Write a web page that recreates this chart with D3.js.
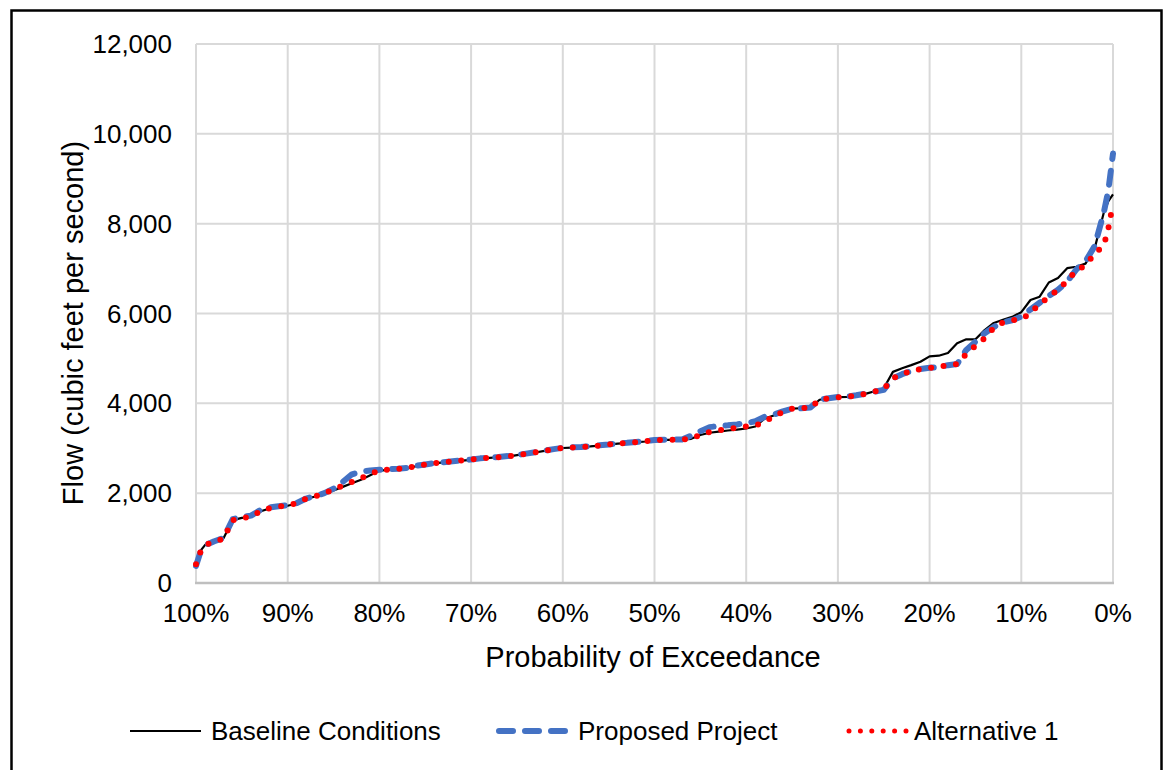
<!DOCTYPE html>
<html><head><meta charset="utf-8">
<script src="https://cdn.jsdelivr.net/npm/d3@7"></script>
<style>body{margin:0;background:#fff}svg{display:block;font-family:"Liberation Sans",Arial,sans-serif}</style>
</head><body><svg id="c" width="1166" height="770"></svg>
<script>
const probability = [100,99.5,99,98,97,96,95,94,93,92,91,90,89,88,87,86,85,84,83,82,81,80,79,78,77,76,75,74,73,72,71,70,69,68,67,66,65,64,63,62,61,60,59,58,57,56,55,54,53,52,51,50,49,48,47,46,45,44,43,42,41,40,39,38,37,36,35,34,33,32,31,30,29,28,27,26,25,24,23,22,21,20,19,18,17,16,15,14,13,12,11,10,9,8,7,6,5,4,3,2,1,0.5,0];
const baseline = [450,720,850,920,995,1400,1450,1470,1590,1660,1700,1720,1770,1870,1925,1990,2060,2140,2220,2300,2400,2500,2520,2535,2553,2600,2630,2665,2685,2705,2725,2742,2770,2785,2800,2815,2845,2875,2905,2940,2975,3005,3015,3028,3040,3060,3080,3105,3115,3130,3150,3180,3185,3188,3190,3210,3294,3345,3370,3395,3415,3440,3485,3660,3730,3810,3880,3890,3900,4080,4110,4135,4145,4175,4210,4270,4334,4700,4780,4850,4926,5045,5060,5120,5340,5425,5425,5630,5790,5860,5925,6030,6300,6374,6690,6790,7010,7041,7110,7450,8250,8500,8650];
const proposed = [380,700,840,930,1000,1420,1470,1500,1620,1680,1710,1730,1780,1880,1935,2000,2100,2250,2420,2480,2505,2520,2535,2545,2560,2610,2640,2670,2690,2710,2730,2750,2775,2790,2805,2825,2850,2880,2910,2945,2980,3010,3020,3030,3045,3065,3085,3110,3120,3140,3160,3185,3190,3192,3195,3280,3380,3470,3495,3510,3530,3560,3600,3700,3750,3820,3880,3890,3905,4085,4115,4140,4150,4180,4215,4260,4300,4560,4650,4720,4763,4790,4810,4850,4875,5190,5371,5560,5700,5800,5850,5930,6090,6240,6390,6530,6710,6980,7160,7500,8250,8750,9560];
const alternative1 = [420,700,850,910,990,1400,1450,1475,1595,1665,1705,1725,1775,1875,1930,1995,2080,2170,2250,2330,2430,2505,2525,2540,2555,2605,2635,2668,2688,2708,2728,2745,2772,2788,2802,2820,2848,2878,2908,2942,2978,3008,3018,3030,3042,3062,3082,3108,3118,3135,3155,3182,3187,3190,3192,3215,3294,3360,3400,3425,3460,3485,3500,3590,3710,3810,3880,3890,3900,4080,4110,4135,4145,4175,4210,4260,4320,4560,4650,4720,4763,4790,4810,4850,4875,5100,5280,5450,5680,5800,5850,5880,6000,6230,6350,6540,6720,6960,7070,7330,7520,7900,8450];
const xTicks = [100,90,80,70,60,50,40,30,20,10,0];
const yTicks = [0,2000,4000,6000,8000,10000,12000];
const seriesNames = ["Baseline Conditions","Proposed Project","Alternative 1"];

const svg = d3.select("#c");
const x = d3.scaleLinear().domain([100,0]).range([196,1113]);
const y = d3.scaleLinear().domain([0,12000]).range([583,44]);

svg.append("rect").attr("x",11.5).attr("y",10.5).attr("width",1150).attr("height",800)
  .attr("fill","#fff").attr("stroke","#000").attr("stroke-width",2.5);

// gridlines
svg.append("g").selectAll("line").data(yTicks.filter(d=>d>0)).join("line")
  .attr("x1",x(100)).attr("x2",x(0)).attr("y1",d=>y(d)).attr("y2",d=>y(d))
  .attr("stroke","#D9D9D9").attr("stroke-width",2);
svg.append("g").selectAll("line").data(xTicks).join("line")
  .attr("x1",d=>x(d)).attr("x2",d=>x(d)).attr("y1",y(0)).attr("y2",y(12000))
  .attr("stroke","#D9D9D9").attr("stroke-width",2);
svg.append("line").attr("x1",x(100)-1).attr("x2",x(0)+1).attr("y1",y(0)).attr("y2",y(0))
  .attr("stroke","#BFBFBF").attr("stroke-width",2.5);

// tick labels
svg.append("g").selectAll("text").data(yTicks).join("text")
  .attr("x",172).attr("y",d=>y(d)).attr("dy","0.35em").attr("text-anchor","end")
  .attr("font-size",26).attr("fill","#000").text(d3.format(","));
svg.append("g").selectAll("text").data(xTicks).join("text")
  .attr("x",d=>x(d)).attr("y",613).attr("dy","0.35em").attr("text-anchor","middle")
  .attr("font-size",26).attr("fill","#000").text(d=>d+"%");

svg.append("text").attr("x",653).attr("y",667).attr("text-anchor","middle")
  .attr("font-size",29).attr("fill","#000").text("Probability of Exceedance");
svg.append("text").attr("transform","translate(83,323) rotate(-90)").attr("text-anchor","middle")
  .attr("font-size",29).attr("fill","#000").text("Flow (cubic feet per second)");

const styles = [
  {stroke:"#000000", width:2.2, dash:null, cap:"butt"},
  {stroke:"#4472C4", width:6, dash:"14,12", cap:"round"},
  {stroke:"#FF0000", width:6, dash:"0,12.5", cap:"round"}
];
const data = [baseline, proposed, alternative1];
const line = d3.line().x((d,i)=>x(probability[i])).y(d=>y(d));
data.forEach((s,k)=>{
  const st = styles[k];
  svg.append("path").datum(s).attr("d",line).attr("fill","none")
    .attr("stroke",st.stroke).attr("stroke-width",st.width)
    .attr("stroke-dasharray",st.dash).attr("stroke-linecap",st.cap).attr("stroke-linejoin","round");
});

// legend
const leg = [{x1:130,x2:201,tx:211},{x1:499,x2:567,tx:578},{x1:849,x2:906,tx:914}];
leg.forEach((l,k)=>{
  const st = styles[k];
  svg.append("line").attr("x1",l.x1).attr("x2",l.x2).attr("y1",731).attr("y2",731)
    .attr("stroke",st.stroke).attr("stroke-width",k===2?5:st.width)
    .attr("stroke-dasharray",k===2?"0,11.4":st.dash).attr("stroke-linecap",st.cap);
  svg.append("text").attr("x",l.tx).attr("y",731).attr("dy","0.35em")
    .attr("font-size",26).attr("fill","#000").text(seriesNames[k]);
});
</script></body></html>
